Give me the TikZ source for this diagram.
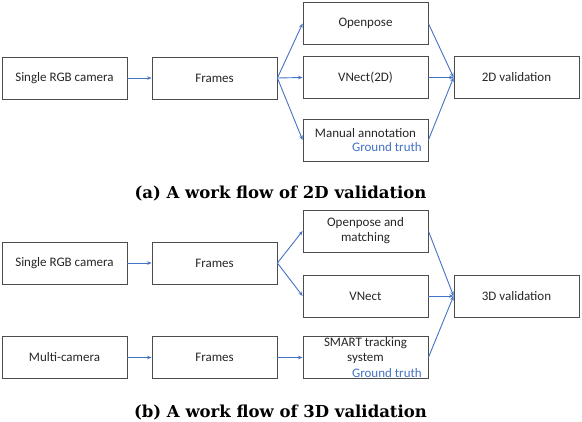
\documentclass[tikz,border=0pt]{standalone}
\usepackage{fontspec}
\setsansfont{Carlito}
\newfontfamily\capfont{DejaVu Serif}
\usetikzlibrary{arrows.meta}
\begin{document}
\begin{tikzpicture}[x=1pt,y=-1pt,
  box/.style={draw=black!70,line width=0.8pt,minimum width=125pt,minimum height=42pt,inner sep=0pt,
    font=\sffamily\fontsize{13}{15}\selectfont,align=center,text=black!85},
  flow/.style={draw={rgb,255:red,68;green,114;blue,196},line width=0.9pt,
    -{Stealth[length=4.5pt,width=3.5pt]}},
  gt/.style={font=\sffamily\fontsize{13}{15}\selectfont,text={rgb,255:red,68;green,114;blue,196},anchor=base east,inner sep=0pt},
  captext/.style={font=\capfont\bfseries\fontsize{16.5}{19}\selectfont,anchor=base,inner sep=0pt}]
\useasboundingbox (0,0) rectangle (582,422);
% (a)
\node[box] (asrc) at (64.5,78) {Single RGB camera};
\node[box] (afr) at (214.5,78) {Frames};
\node[box] (aop) at (365.5,23.5) {Openpose};
\node[box] (avn) at (365.5,77.5) {VNect(2D)};
\node[box] (ama) at (365.5,140) {};
\node[font=\sffamily\fontsize{13}{15}\selectfont,text=black!85,anchor=base,inner sep=0pt] (amat) at (365.5,137.5) {Manual annotation};
\node[gt] (agt) at (422,151.5) {Ground truth};
\node[box] (aval) at (516.5,77.5) {2D validation};
\draw[flow] (asrc) -- (afr);
\draw[flow] (afr.east) -- (aop.west);
\draw[flow] (afr.east) -- (avn.west);
\draw[flow] (afr.east) -- (ama.west);
\draw[flow] (aop.east) -- (aval.west);
\draw[flow] (avn.east) -- (aval.west);
\draw[flow] (ama.east) -- (aval.west);
\node[captext] (capa) at (280.5,199) {(a) A work flow of 2D validation};
% (b)
\node[box] (bsrc) at (64.5,263) {Single RGB camera};
\node[box] (bfr) at (214.5,263) {Frames};
\node[box] (bmc) at (64.5,357.5) {Multi-camera};
\node[box] (bfr2) at (214.5,357.5) {Frames};
\node[box] (bop) at (365.5,231) {Openpose and\\matching};
\node[box] (bvn) at (365.5,296) {VNect};
\node[box] (bsm) at (365.5,357.5) {};
\node[font=\sffamily\fontsize{13}{15}\selectfont,text=black!85,align=center,inner sep=0pt] (bsmt) at (365.5,351) {SMART tracking\\system};
\node[gt] (bgt) at (422,377.5) {Ground truth};
\node[box] (bval) at (516.5,296) {3D validation};
\draw[flow] (bsrc) -- (bfr);
\draw[flow] (bmc) -- (bfr2);
\draw[flow] (bfr.east) -- (bop.west);
\draw[flow] (bfr.east) -- (bvn.west);
\draw[flow] (bfr2) -- (bsm);
\draw[flow] (bop.east) -- (bval.west);
\draw[flow] (bvn.east) -- (bval.west);
\draw[flow] (bsm.east) -- (bval.west);
\node[captext] (capb) at (280.5,418) {(b) A work flow of 3D validation};
\end{tikzpicture}
\end{document}
